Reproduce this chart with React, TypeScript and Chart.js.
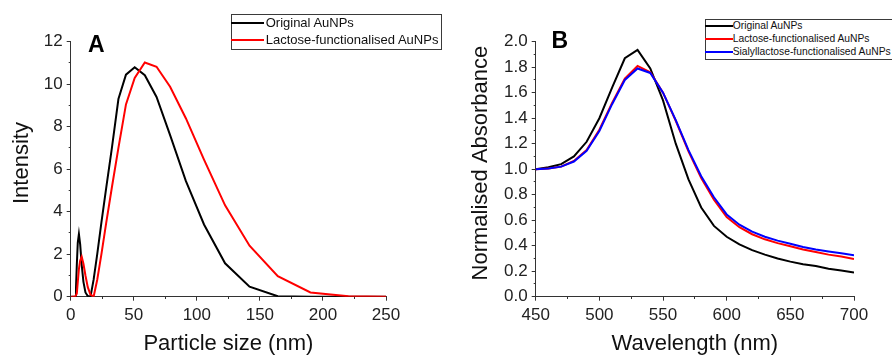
import React, { useEffect, useRef } from "react";
import { Chart, registerables } from "chart.js";

Chart.register(...registerables);

const FONT = "'Liberation Sans', Arial, Helvetica, sans-serif";

// ---------- Panel A: DLS size distribution ----------
const sizeNm = [
  0.4, 1.294, 2.328, 3.615, 4.187, 4.849, 5.615, 6.503, 7.531, 8.721, 10.1, 11.7, 13.54,
  15.69, 18.17, 21.04, 24.36, 28.21, 32.67, 37.84, 43.82, 50.75, 58.77, 68.06, 78.82,
  91.28, 105.7, 122.4, 141.8, 164.2, 190.1, 220.2, 255.0,
];
const intensityOriginal = [
  0, 0, 0, 0, 0.4, 1.5, 2.55, 2.95, 2.45, 1.5, 0.7, 0.2, 0.03,
  0.0, 0.8, 2.0, 3.5, 5.15, 7.0, 9.3, 10.45, 10.8, 10.42, 9.4, 7.6,
  5.45, 3.4, 1.57, 0.47, 0.02, 0, 0, 0,
];
const intensityLactose = [
  0, 0, 0, 0, 0, 0.15, 0.7, 1.3, 1.7, 1.88, 1.55, 1.0, 0.45,
  0.1, 0.0, 0.8, 2.0, 3.5, 5.15, 7.0, 9.05, 10.3, 11.02, 10.82, 9.88,
  8.4, 6.45, 4.3, 2.4, 0.97, 0.2, 0.02, 0,
];

// ---------- Panel B: UV-Vis spectra ----------
const wavelengthNm = [
  450, 460, 470, 480, 490, 500, 510, 520, 530, 540, 550, 560, 570,
  580, 590, 600, 610, 620, 630, 640, 650, 660, 670, 680, 690, 700,
];
const absOriginal = [
  1.0, 1.015, 1.04, 1.1, 1.215, 1.4, 1.64, 1.87, 1.935, 1.79, 1.54, 1.2, 0.92,
  0.7, 0.555, 0.47, 0.41, 0.365, 0.33, 0.3, 0.275, 0.255, 0.24, 0.22, 0.205, 0.19,
];
const absLactose = [
  1.0, 1.005, 1.02, 1.065, 1.15, 1.31, 1.52, 1.71, 1.81, 1.76, 1.6, 1.38, 1.14,
  0.93, 0.76, 0.625, 0.545, 0.49, 0.45, 0.42, 0.395, 0.37, 0.35, 0.33, 0.315, 0.295,
];
const absSialyl = [
  1.0, 1.005, 1.02, 1.06, 1.145, 1.3, 1.51, 1.7, 1.79, 1.755, 1.6, 1.385, 1.15,
  0.945, 0.78, 0.645, 0.565, 0.51, 0.47, 0.44, 0.415, 0.39, 0.37, 0.355, 0.34, 0.325,
];

const seriesA = [
  { label: "Original AuNPs", color: "#000000", x: sizeNm, y: intensityOriginal },
  { label: "Lactose-functionalised AuNPs", color: "#ff0000", x: sizeNm, y: intensityLactose },
];
const seriesB = [
  { label: "Original AuNPs", color: "#000000", x: wavelengthNm, y: absOriginal },
  { label: "Lactose-functionalised AuNPs", color: "#ff0000", x: wavelengthNm, y: absLactose },
  { label: "Sialyllactose-functionalised AuNPs", color: "#0000ff", x: wavelengthNm, y: absSialyl },
];

const AXIS_COLOR = "#333333";
const TICK_TEXT = "#222222";

type PanelCfg = {
  series: { label: string; color: string; x: number[]; y: number[] }[];
  xMin: number; xMax: number; xStep: number;
  yMin: number; yMax: number; yStep: number;
  yDecimals: number;
  xTitle: string; yTitle: string;
  yAxisWidth: number; xAxisHeight: number;
  padTop: number; padRight: number;
  yTitlePad: number;
};

function buildConfig(p: PanelCfg): any {
  const n = p.series.length;
  return {
    type: "line",
    data: {
      datasets: p.series.map((s, i) => ({
        label: s.label,
        data: s.x.map((xv, k) => ({ x: xv, y: s.y[k] })),
        borderColor: s.color,
        backgroundColor: s.color,
        borderWidth: 2,
        pointRadius: 0,
        tension: 0,
        fill: false,
        order: n - i,
      })),
    },
    options: {
      responsive: false,
      maintainAspectRatio: false,
      animation: false,
      layout: { padding: { top: p.padTop, right: p.padRight, left: 0, bottom: 0 } },
      plugins: { legend: { display: false }, tooltip: { enabled: false } },
      scales: {
        x: {
          type: "linear",
          min: p.xMin, max: p.xMax,
          afterFit: (s: any) => { s.height = p.xAxisHeight; },
          border: { display: true, color: AXIS_COLOR, width: 1 },
          grid: {
            drawOnChartArea: false, drawTicks: true, tickLength: 4,
            tickColor: AXIS_COLOR, tickWidth: 1,
            tickBorderDash: (c: any) => (c.index % 2 === 1 ? [2, 10] : []),
          },
          ticks: {
            stepSize: p.xStep, autoSkip: false, maxRotation: 0, padding: 4,
            color: TICK_TEXT, font: { family: FONT, size: 17 },
            callback: (v: any, i: number) => (i % 2 === 0 ? String(v) : ""),
          },
          title: {
            display: true, text: p.xTitle, color: "#111",
            font: { family: FONT, size: 22, lineHeight: 1 },
            padding: { top: 0, bottom: 1 },
          },
        },
        y: {
          type: "linear",
          min: p.yMin, max: p.yMax,
          afterFit: (s: any) => { s.width = p.yAxisWidth; },
          border: { display: true, color: AXIS_COLOR, width: 1 },
          grid: {
            drawOnChartArea: false, drawTicks: true, tickLength: 4,
            tickColor: AXIS_COLOR, tickWidth: 1,
            tickBorderDash: (c: any) => (c.index % 2 === 1 ? [0, 2, 10] : []),
          },
          ticks: {
            stepSize: p.yStep, autoSkip: false, padding: 4,
            color: TICK_TEXT, font: { family: FONT, size: 17 },
            callback: (v: any, i: number) =>
              i % 2 === 0 ? Number(v).toFixed(p.yDecimals) : "",
          },
          title: {
            display: true, text: p.yTitle, color: "#111",
            font: { family: FONT, size: 22, lineHeight: 1 },
            padding: { top: p.yTitlePad, bottom: 0 },
          },
        },
      },
    },
  };
}

function Panel({ cfg, left, width }: { cfg: PanelCfg; left: number; width: number }) {
  const ref = useRef<HTMLCanvasElement | null>(null);
  useEffect(() => {
    if (!ref.current) return;
    const chart = new Chart(ref.current, buildConfig(cfg));
    return () => chart.destroy();
  }, []);
  return (
    <canvas
      ref={ref}
      width={width}
      height={356}
      style={{ position: "absolute", left, top: 0, width, height: 356 }}
    />
  );
}

function Legend({
  series, left, top, width, rowH, fontSize, sampleW, textLeft,
}: {
  series: { label: string; color: string }[];
  left: number; top: number; width: number; rowH: number;
  fontSize: number; sampleW: number; textLeft: number;
}) {
  return (
    <div
      style={{
        position: "absolute", left, top, width, height: rowH * series.length + 1,
        border: "1px solid #3a3a3a", background: "#fff", boxSizing: "content-box",
        fontFamily: FONT, fontSize, color: "#111",
      }}
    >
      {series.map((s, i) => (
        <div key={i} style={{ position: "absolute", left: 0, top: i * rowH, height: rowH, width: "100%" }}>
          <div
            style={{
              position: "absolute", left: -1, top: rowH / 2 - 1, width: sampleW, height: 2,
              background: s.color,
            }}
          />
          <div
            style={{
              position: "absolute", left: textLeft, top: 0, lineHeight: `${rowH}px`,
              whiteSpace: "nowrap",
            }}
          >
            {s.label}
          </div>
        </div>
      ))}
    </div>
  );
}

const cfgA: PanelCfg = {
  series: seriesA,
  xMin: 0, xMax: 250, xStep: 25,
  yMin: 0, yMax: 12, yStep: 1, yDecimals: 0,
  xTitle: "Particle size (nm)", yTitle: "  Intensity",
  yAxisWidth: 70.7, xAxisHeight: 59.3,
  padTop: 41.7, padRight: 446 - 386,
  yTitlePad: 11,
};

const cfgB: PanelCfg = {
  series: seriesB,
  xMin: 450, xMax: 700, xStep: 25,
  yMin: 0, yMax: 2, yStep: 0.1, yDecimals: 1,
  xTitle: "Wavelength (nm)", yTitle: "  Normalised Absorbance",
  yAxisWidth: 535.7 - 446, xAxisHeight: 59.3,
  padTop: 41.7, padRight: 446 - 408,
  yTitlePad: 23.7,
};

export default function App() {
  return (
    <div
      style={{
        position: "absolute", left: 0, top: 0, width: 892, height: 356,
        overflow: "hidden", background: "#fff",
      }}
    >
      <Panel cfg={cfgA} left={0} width={446} />
      <Panel cfg={cfgB} left={446} width={446} />
      <div style={{ position: "absolute", left: 88, top: 33, fontFamily: FONT, fontWeight: 700, fontSize: 23, lineHeight: 1, color: "#000" }}>
        A
      </div>
      <div style={{ position: "absolute", left: 551.5, top: 28.7, fontFamily: FONT, fontWeight: 700, fontSize: 23, lineHeight: 1, color: "#000" }}>
        B
      </div>
      <Legend series={seriesA} left={230.7} top={14} width={209} rowH={16.7} fontSize={13} sampleW={33} textLeft={34} />
      <Legend series={seriesB} left={705} top={19} width={200} rowH={12.8} fontSize={10.3} sampleW={27.5} textLeft={26.7} />
    </div>
  );
}
